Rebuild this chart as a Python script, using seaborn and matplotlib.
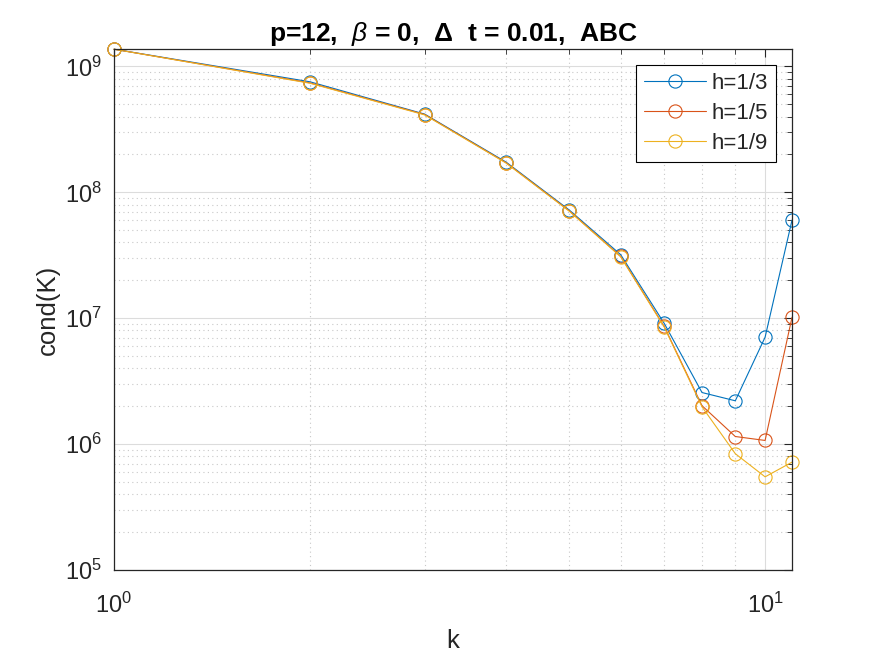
import pandas as pd
import matplotlib
matplotlib.use('Agg')
import matplotlib.pyplot as plt
import seaborn as sns
from matplotlib.ticker import LogLocator, NullFormatter

# values (log-log, k = 1..11)
k = [1, 2, 3, 4, 5, 6, 7, 8, 9, 10, 11]
cond_h3 = [1.37e9, 7.55e8, 4.18e8, 1.74e8, 7.25e7, 3.2e7, 9.1e6, 2.57e6, 2.21e6, 7.07e6, 6.03e7]
cond_h5 = [1.37e9, 7.4e8, 4.15e8, 1.72e8, 7.15e7, 3.1e7, 8.6e6, 2.02e6, 1.15e6, 1.07e6, 1.02e7]
cond_h9 = [1.37e9, 7.35e8, 4.12e8, 1.71e8, 7.1e7, 3.08e7, 8.5e6, 1.98e6, 8.4e5, 5.5e5, 7.2e5]
series_labels = ['h=1/3', 'h=1/5', 'h=1/9']
series_colors = ['#0072BD', '#D95319', '#EDB120']

sns.set_theme(style='white')
plt.rcParams['font.family'] = ['Liberation Sans', 'DejaVu Sans']
plt.rcParams['mathtext.fontset'] = 'custom'
plt.rcParams['mathtext.rm'] = 'Liberation Sans'
plt.rcParams['mathtext.it'] = 'Liberation Sans:italic'
plt.rcParams['mathtext.bf'] = 'Liberation Sans:bold'
plt.rcParams['mathtext.default'] = 'regular'

fig = plt.figure(figsize=(8.75, 6.56), dpi=100)
ax = fig.add_axes([0.1303, 0.131, 0.7749, 0.794])

for vals, lab, col in zip([cond_h3, cond_h5, cond_h9], series_labels, series_colors):
    df = pd.DataFrame({'k': k, 'cond': vals})
    sns.lineplot(data=df, x='k', y='cond', ax=ax, color=col, label=lab,
                 marker='o', markersize=9.5, markerfacecolor='none',
                 markeredgecolor=col, markeredgewidth=0.8, linewidth=0.8,
                 clip_on=False)

ax.set_xscale('log')
ax.set_yscale('log')
ax.set_xlim(1, 11)
ax.set_ylim(1e5, max(cond_h3))

ax.xaxis.set_major_locator(LogLocator(base=10, numticks=10))
ax.yaxis.set_major_locator(LogLocator(base=10, numticks=10))
ax.xaxis.set_minor_locator(LogLocator(base=10, subs=range(2, 10), numticks=20))
ax.yaxis.set_minor_locator(LogLocator(base=10, subs=range(2, 10), numticks=20))
ax.xaxis.set_minor_formatter(NullFormatter())
ax.yaxis.set_minor_formatter(NullFormatter())

ax.grid(True, which='major', color='#dcdcdc', linewidth=0.8, linestyle='-')
ax.grid(True, which='minor', color='#c8c8c8', linewidth=0.8, linestyle=(0, (1, 3)))
ax.set_axisbelow(True)

ax.tick_params(which='both', direction='in', top=True, right=True, colors='#262626',
               labelsize=17)
ax.tick_params(which='major', length=6, width=0.8)
ax.tick_params(which='minor', length=3.5, width=0.6)
ax.tick_params(axis='x', pad=16)
ax.tick_params(axis='y', pad=9)
for sp in ax.spines.values():
    sp.set_color('#262626')
    sp.set_linewidth(0.9)

ax.set_xlabel('k', fontsize=18.5, color='#262626', labelpad=8)
ax.set_ylabel('cond(K)', fontsize=18.5, color='#262626', labelpad=3)
ax.set_title(r'p=12,  $\mathit{\beta}$ = 0,  $\Delta$  t = 0.01,  ABC', fontsize=19,
             fontweight='bold', color='black', pad=6)

leg = ax.legend(loc='upper right', bbox_to_anchor=(0.9764, 0.969), fontsize=16,
                fancybox=False, edgecolor='black', framealpha=1, borderaxespad=0,
                handlelength=2.8, labelspacing=0.4, borderpad=0.35,
                handletextpad=0.25)
leg.get_frame().set_linewidth(0.8)

fig.savefig('out.png', dpi=100, facecolor='white')
